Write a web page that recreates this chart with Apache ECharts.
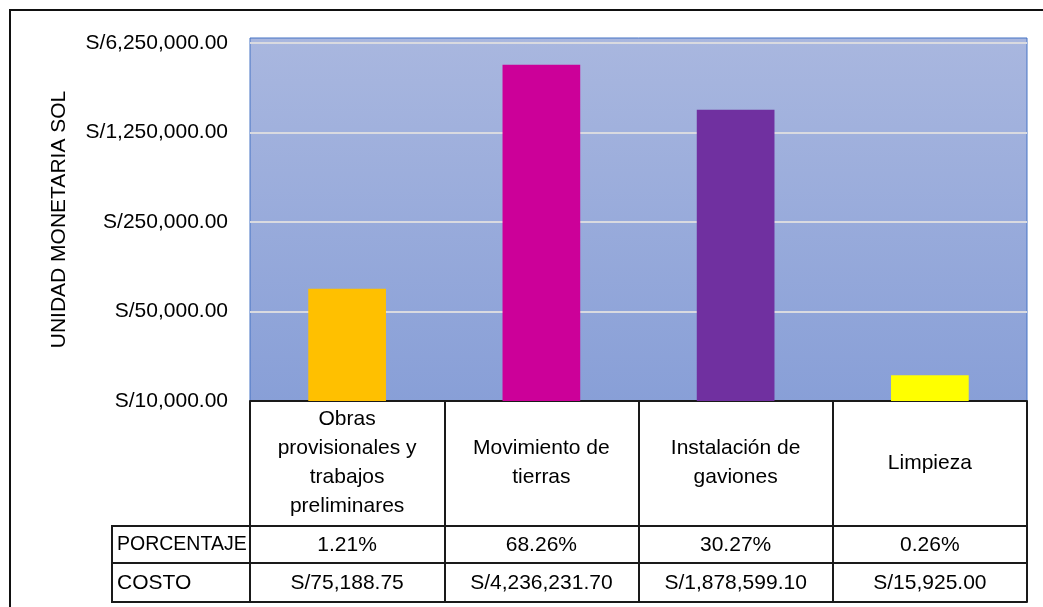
<!DOCTYPE html>
<html>
<head>
<meta charset="utf-8">
<script src="https://cdn.jsdelivr.net/npm/echarts@6/dist/echarts.min.js"></script>
<style>
  html, body { margin: 0; padding: 0; background: #fff; }
  #chart { width: 1043px; height: 607px; }
</style>
</head>
<body>
<div id="chart"></div>
<script>
// partidas del presupuesto
const categorias = [
  'Obras\nprovisionales y\ntrabajos\npreliminares',
  'Movimiento de\ntierras',
  'Instalación de\ngaviones',
  'Limpieza'
]
const costos = [75188.75, 4236231.70, 1878599.10, 15925.00]
const porcentajes = [1.21, 68.26, 30.27, 0.26]
const coloresBarra = ['#FFC000', '#CC0099', '#7030A0', '#FFFF00']
const ticksY = [10000, 50000, 250000, 1250000, 6250000]
const filasTabla = ['PORCENTAJE', 'COSTO']

const FONT = 'Liberation Sans'
const lineaTabla = { color: '#1a1a1a', width: 2 }

function soles(v) {
  return 'S/' + v.toLocaleString('en-US', { minimumFractionDigits: 2, maximumFractionDigits: 2 })
}

const chart = echarts.init(document.getElementById('chart'))

chart.setOption({
  animation: false,
  textStyle: { fontFamily: FONT },
  grid: {
    left: 250,
    right: 16,
    top: 38,
    bottom: 206,
    show: true,
    borderColor: '#4472C4',
    borderWidth: 1,
    backgroundColor: new echarts.graphic.LinearGradient(0, 0, 0, 1, [
      { offset: 0, color: '#A9B7DF' },
      { offset: 1, color: '#889FD7' }
    ])
  },
  xAxis: [{
    type: 'category',
    data: categorias,
    position: 'bottom',
    axisLine: { lineStyle: lineaTabla },
    axisTick: { show: true, length: 125, lineStyle: lineaTabla },
    axisLabel: {
      interval: 0,
      margin: 62,
      verticalAlign: 'middle',
      color: '#000',
      fontSize: 21,
      lineHeight: 29,
      fontFamily: FONT
    }
  }, {
    type: 'category',
    data: categorias,
    position: 'bottom',
    offset: 125,
    axisLine: { lineStyle: lineaTabla },
    axisTick: { show: true, length: 37, lineStyle: lineaTabla },
    axisLabel: {
      interval: 0,
      margin: 19,
      verticalAlign: 'middle',
      color: '#000',
      fontSize: 21,
      fontFamily: FONT,
      formatter: (v, i) => porcentajes[i].toFixed(2) + '%'
    }
  }, {
    type: 'category',
    data: categorias,
    position: 'bottom',
    offset: 162,
    axisLine: { lineStyle: lineaTabla },
    axisTick: { show: true, length: 39, lineStyle: lineaTabla },
    axisLabel: {
      interval: 0,
      margin: 20,
      verticalAlign: 'middle',
      color: '#000',
      fontSize: 21,
      fontFamily: FONT,
      formatter: (v, i) => soles(costos[i])
    }
  }, {
    type: 'category',
    data: categorias,
    position: 'bottom',
    offset: 201,
    axisLine: { lineStyle: lineaTabla },
    axisTick: { show: false },
    axisLabel: { show: false }
  }],
  yAxis: {
    type: 'log',
    logBase: 5,
    min: 10000,
    max: 6840000,
    name: 'UNIDAD MONETARIA SOL',
    nameLocation: 'middle',
    nameGap: 180,
    nameTextStyle: { color: '#000', fontSize: 21, fontFamily: FONT },
    axisLine: { show: false },
    axisTick: { show: false, customValues: ticksY },
    axisLabel: {
      customValues: ticksY,
      margin: 22,
      color: '#000',
      fontSize: 21,
      fontFamily: FONT,
      formatter: v => soles(v)
    },
    splitLine: { show: true, lineStyle: { color: '#D9DAE0', width: 2 } }
  },
  series: [{
    type: 'bar',
    data: costos.map((v, i) => ({ value: v, itemStyle: { color: coloresBarra[i] } })),
    barWidth: '40%',
    clip: true
  }],
  graphic: [
    // marco exterior
    {
      type: 'rect',
      shape: { x: 10, y: 10, width: 1200, height: 800 },
      style: { fill: 'none', stroke: '#111', lineWidth: 2 },
      silent: true
    },
    // columna de encabezados de fila
    {
      type: 'rect',
      shape: { x: 112, y: 526, width: 138, height: 37 },
      style: { fill: 'none', stroke: '#1a1a1a', lineWidth: 2 }
    },
    {
      type: 'rect',
      shape: { x: 112, y: 563, width: 138, height: 39 },
      style: { fill: 'none', stroke: '#1a1a1a', lineWidth: 2 }
    },
    {
      type: 'text',
      x: 117, y: 545,
      style: { text: filasTabla[0], fill: '#000', font: '19.5px ' + FONT, verticalAlign: 'middle' }
    },
    {
      type: 'text',
      x: 117, y: 583,
      style: { text: filasTabla[1], fill: '#000', font: '21px ' + FONT, verticalAlign: 'middle' }
    }
  ]
})
</script>
</body>
</html>
